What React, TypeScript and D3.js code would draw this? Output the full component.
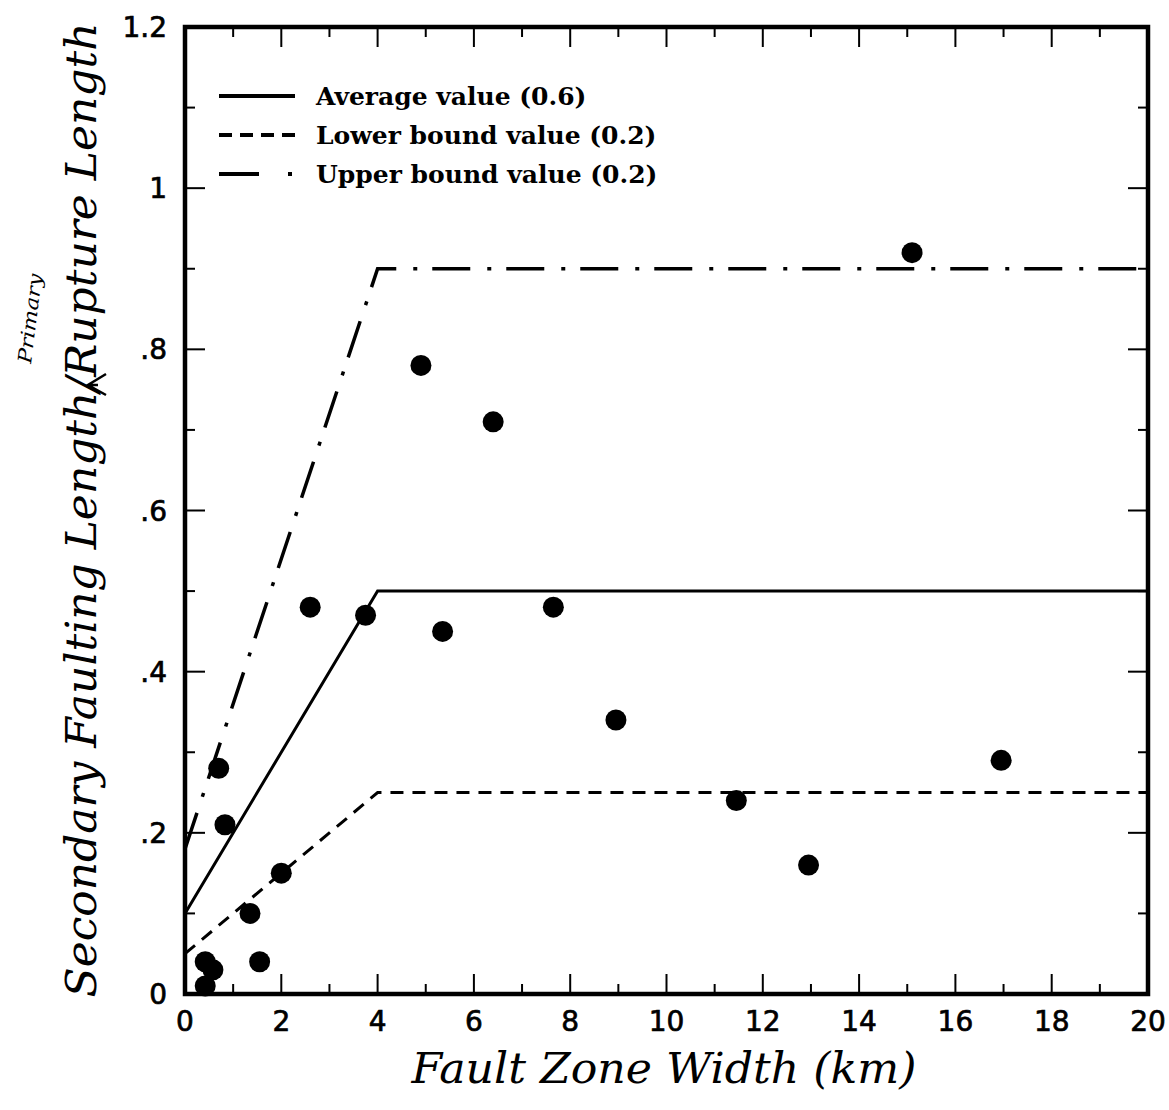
import React, { useEffect, useRef } from "react";
import * as d3 from "d3";

// observed points: fault zone width (km) vs ratio
const widthKm = [15.1, 4.9, 6.4, 2.6, 3.75, 5.35, 7.65, 8.95, 16.95, 11.45, 12.95, 0.7, 0.83, 2.0, 1.35, 1.55, 0.42, 0.58, 0.42];
const ratio = [0.92, 0.78, 0.71, 0.48, 0.47, 0.45, 0.48, 0.34, 0.29, 0.24, 0.16, 0.28, 0.21, 0.15, 0.1, 0.04, 0.04, 0.03, 0.01];

// bound lines (knot x, knot y)
const lineX = [0, 4, 20];
const averageY = [0.1, 0.5, 0.5];
const lowerY = [0.05, 0.25, 0.25];
const upperY = [0.18, 0.9, 0.9];

const legendLabels = ["Average value (0.6)", "Lower bound value (0.2)", "Upper bound value (0.2)"];
const xTicks = [0, 2, 4, 6, 8, 10, 12, 14, 16, 18, 20];
const yTicks = [0, 0.2, 0.4, 0.6, 0.8, 1, 1.2];
const yTickLabels = ["0", ".2", ".4", ".6", ".8", "1", "1.2"];

const W = 1169;
const H = 1110;
const margin = { left: 185, right: 21, top: 27, bottom: 116 };

const dashes = ["none", "13,9", "38,17,4,15"];

export default function App() {
  const svgRef = useRef<SVGSVGElement>(null);

  useEffect(() => {
    const svg = d3.select(svgRef.current);
    svg.selectAll("*").remove();

    const x = d3.scaleLinear().domain([0, 20]).range([margin.left, W - margin.right]);
    const y = d3.scaleLinear().domain([0, 1.2]).range([H - margin.bottom, margin.top]);

    svg.append("rect").attr("width", W).attr("height", H).attr("fill", "#fff");

    // minor/major inside ticks on all four sides
    const g = svg.append("g").attr("stroke", "#000").attr("stroke-width", 2);
    d3.range(1, 20).forEach(v => {
      const len = v % 2 === 0 ? 20 : 10;
      g.append("line").attr("x1", x(v)).attr("x2", x(v)).attr("y1", y(0)).attr("y2", y(0) - len);
      g.append("line").attr("x1", x(v)).attr("x2", x(v)).attr("y1", y(1.2)).attr("y2", y(1.2) + len);
    });
    d3.range(1, 12).forEach(i => {
      const v = i / 10;
      const len = i % 2 === 0 ? 20 : 10;
      g.append("line").attr("x1", x(0)).attr("x2", x(0) + len).attr("y1", y(v)).attr("y2", y(v));
      g.append("line").attr("x1", x(20)).attr("x2", x(20) - len).attr("y1", y(v)).attr("y2", y(v));
    });

    // frame
    svg.append("rect")
      .attr("x", x(0)).attr("y", y(1.2))
      .attr("width", x(20) - x(0)).attr("height", y(0) - y(1.2))
      .attr("fill", "none").attr("stroke", "#000").attr("stroke-width", 4.5);

    // tick labels
    svg.append("g").selectAll("text").data(xTicks).enter().append("text")
      .attr("x", d => x(d)).attr("y", y(0) + 37)
      .attr("text-anchor", "middle")
      .attr("stroke", "#000").attr("stroke-width", 0.7)
      .style("font-family", "DejaVu Sans").style("font-size", "28px")
      .text(d => String(d));

    svg.append("g").selectAll("text").data(yTicks).enter().append("text")
      .attr("x", x(0) - 18).attr("y", d => y(d) + 10)
      .attr("text-anchor", "end")
      .attr("stroke", "#000").attr("stroke-width", 0.7)
      .style("font-family", "DejaVu Sans").style("font-size", "28px")
      .text((d, i) => yTickLabels[i]);

    // bound lines
    const line = d3.line<number>().x((d, i) => x(lineX[i])).y(d => y(d));
    [averageY, lowerY, upperY].forEach((vals, k) => {
      svg.append("path")
        .attr("d", line(vals))
        .attr("fill", "none").attr("stroke", "#000").attr("stroke-width", k === 2 ? 3.5 : 3)
        .attr("stroke-dasharray", dashes[k]);
    });

    // points
    svg.append("g").selectAll("circle").data(widthKm).enter().append("circle")
      .attr("cx", d => x(d)).attr("cy", (d, i) => y(ratio[i]))
      .attr("r", 10.5).attr("fill", "#000");

    // legend
    const leg = svg.append("g");
    legendLabels.forEach((lab, i) => {
      const ly = 96 + i * 39;
      leg.append("line")
        .attr("x1", 219).attr("x2", 295).attr("y1", ly).attr("y2", ly)
        .attr("stroke", "#000").attr("stroke-width", 4)
        .attr("stroke-dasharray", i === 1 ? "13,8" : i === 2 ? "40,29,4,20" : "none");
      leg.append("text")
        .attr("x", 316).attr("y", ly + 9)
        .style("font-family", "DejaVu Serif").style("font-weight", "bold").style("font-size", "25px")
        .text(lab);
    });

    // axis titles
    svg.append("text")
      .attr("x", 664).attr("y", 1083)
      .attr("text-anchor", "middle")
      .attr("textLength", 505).attr("lengthAdjust", "spacingAndGlyphs")
      .style("font-family", "DejaVu Serif").style("font-style", "italic").style("font-size", "42px")
      .text("Fault Zone Width (km)");

    svg.append("text")
      .attr("transform", "translate(96,510) rotate(-90)")
      .attr("text-anchor", "middle")
      .style("font-family", "DejaVu Serif").style("font-style", "italic").style("font-size", "43px")
      .attr("textLength", 975).attr("lengthAdjust", "spacingAndGlyphs")
      .text("Secondary Faulting Length/Rupture Length");

    // handwritten insertion above the slash
    svg.append("text")
      .attr("transform", "translate(31,364) rotate(-83)")
      .attr("textLength", 90).attr("lengthAdjust", "spacingAndGlyphs")
      .style("font-family", "DejaVu Serif").style("font-style", "italic").style("font-size", "19px")
      .text("Primary");
    svg.append("path")
      .attr("d", "M 106 374 L 88 385 L 106 395 M 88 385 L 98 385")
      .attr("fill", "none").attr("stroke", "#000").attr("stroke-width", 2.5);
  }, []);

  return (
    <svg ref={svgRef} width={W} height={H} style={{ position: "absolute", left: 0, top: 0 }} />
  );
}
